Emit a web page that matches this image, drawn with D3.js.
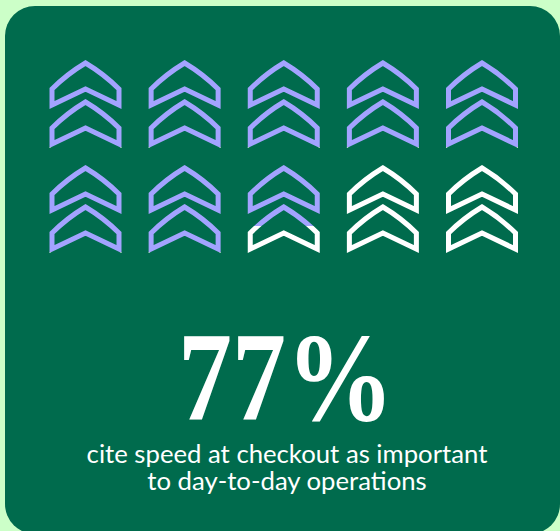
<!DOCTYPE html>
<html>
<head>
<meta charset="utf-8">
<script src="https://cdn.jsdelivr.net/npm/d3@7"></script>
<style>
  html, body { margin: 0; padding: 0; background: #ccffc8; }
  svg { display: block; }
</style>
</head>
<body>
<svg id="chart" width="560" height="531"></svg>
<script>
// ---- data ----
const percentValue = 77;            // headline share
const iconCount = [10];             // number of icons (each = 10%)
const headline = ["77%"];
const captionLines = ["cite speed at checkout as important", "to day-to-day operations"];

// ---- layout ----
const W = 560, H = 531;
const colors = { page: "#ccffc8", card: "#006b4d", filled: "#a3a3ff", empty: "#ffffff" };
const svg = d3.select("#chart");

svg.append("rect").attr("x", 0).attr("y", 0).attr("width", W).attr("height", H).attr("fill", colors.page);
svg.append("rect").attr("x", 5).attr("y", 6).attr("width", 555).attr("height", 528)
  .attr("rx", 30).attr("fill", colors.card);

const n = iconCount[0], cols = 5, rows = Math.ceil(n / cols);
const perIcon = 100 / n;
const icons = d3.range(n).map(i => ({
  i, col: i % cols, row: Math.floor(i / cols),
  frac: Math.max(0, Math.min(1, (percentValue - i * perIcon) / perIcon))
}));

const x = d3.scalePoint().domain(d3.range(cols)).range([85.5, 482]);
const y = d3.scalePoint().domain(d3.range(rows)).range([60, 165]);

const iconH = 87;   // outer height of a double chevron
// chevron center-line path, apex at (0,0)
function chevron(dy) {
  const hw = 33.5;
  const p = d3.path();
  p.moveTo(0, dy);
  p.quadraticCurveTo(hw * 0.55, dy + 11, hw, dy + 26);
  p.lineTo(hw, dy + 42);
  p.lineTo(0, dy + 26);
  p.lineTo(-hw, dy + 42);
  p.lineTo(-hw, dy + 26);
  p.quadraticCurveTo(-hw * 0.55, dy + 11, 0, dy);
  p.closePath();
  return p.toString();
}
const chevPaths = [chevron(3), chevron(42)];

const defs = svg.append("defs");
icons.forEach(d => {
  defs.append("clipPath").attr("id", "clipTop" + d.i)
    .append("rect").attr("x", -50).attr("y", -5).attr("width", 100).attr("height", 5 + iconH * d.frac);
  defs.append("clipPath").attr("id", "clipBot" + d.i)
    .append("rect").attr("x", -50).attr("y", iconH * d.frac).attr("width", 100).attr("height", iconH + 10);
});

const g = svg.selectAll("g.icon").data(icons).join("g").attr("class", "icon")
  .attr("transform", d => `translate(${x(d.col)},${y(d.row)})`);

[["clipBot", colors.empty], ["clipTop", colors.filled]].forEach(([clip, col]) => {
  g.append("g").attr("clip-path", d => `url(#${clip}${d.i})`)
    .selectAll("path").data(chevPaths).join("path")
    .attr("d", p => p).attr("fill", "none").attr("stroke", col)
    .attr("stroke-width", 5).attr("stroke-linejoin", "miter");
});

// headline
const cx = 286;
const big = svg.append("text").text(headline[0])
  .attr("x", cx).attr("y", 420).attr("text-anchor", "middle")
  .attr("font-family", "'Liberation Serif', 'DejaVu Serif', serif")
  .attr("font-weight", "bold").attr("font-size", 127).attr("fill", "#ffffff")
  .attr("textLength", 216).attr("lengthAdjust", "spacingAndGlyphs");

// caption
const cap = svg.append("g");
captionLines.forEach((t, k) => {
  cap.append("text").text(t).attr("x", cx + 1).attr("y", 463 + k * 26.5)
    .attr("text-anchor", "middle").attr("font-family", "Lato, 'Open Sans', sans-serif")
    .attr("font-size", 21).attr("fill", "#ffffff");
});
// fit caption size to reference width of first line (~401px)
const first = cap.select("text").node();
const w0 = first.getComputedTextLength();
const fs = 21 * 401 / w0;
cap.selectAll("text").attr("font-size", fs);
</script>
</body>
</html>
